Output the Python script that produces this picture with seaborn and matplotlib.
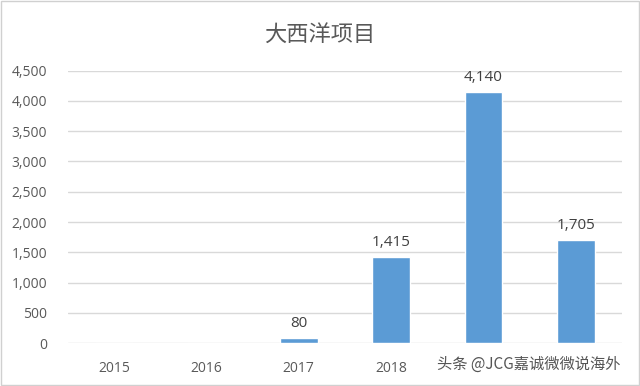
import matplotlib
matplotlib.use("Agg")
import matplotlib.pyplot as plt
import seaborn as sns
import pandas as pd
from matplotlib.patches import Rectangle
from matplotlib.ticker import FuncFormatter

years = ["2015", "2016", "2017", "2018", "2019", "2020"]
values = [0, 0, 80, 1415, 4140, 1705]
# labels of the last two bars are hidden under the watermark in the original
shown_labels = ["2015", "2016", "2017", "2018", "", ""]
title = "大西洋项目"
watermark = "头条 @JCG嘉诚微微说海外"

sns.set_style("white")
plt.rcParams['font.family'] = ['Open Sans', 'Noto Sans CJK SC', 'DejaVu Sans']

df = pd.DataFrame({"year": years, "value": values})

fig = plt.figure(figsize=(6.4, 3.86), dpi=100)
ax = fig.add_axes([0.106, 0.111, 0.866, 0.706])

sns.barplot(data=df, x="year", y="value", color="#5B9BD5", width=0.41,
            saturation=1, ax=ax, zorder=3)

ax.set_ylim(0, 4500)
ax.set_yticks(range(0, 4501, 500))
ax.yaxis.set_major_formatter(FuncFormatter(lambda v, p: f"{int(v):,}"))
ax.set_xticks(range(len(years)))
ax.set_xticklabels(shown_labels)
ax.grid(axis="y", color="#d9d9d9", linewidth=1, zorder=0)
ax.set_xlabel("")
ax.set_ylabel("")
for s in ax.spines.values():
    s.set_visible(False)
ax.tick_params(axis="both", length=0, labelsize=10, colors="#595959")
ax.tick_params(axis="x", pad=13)
ax.tick_params(axis="y", pad=15)

for i, v in enumerate(values):
    if v > 0:
        ax.text(i, v + 120, f"{v:,}", ha="center", va="bottom",
                fontsize=11, color="#404040")

fig.text(0.5, 0.91, title, ha="center", va="center", fontsize=16,
         color="#595959", family=['Noto Sans CJK SC', 'DejaVu Sans'])

fig.text(0.97, 0.055, watermark, ha="right", va="center", fontsize=11,
         color="#555555", family=['Noto Sans CJK SC', 'DejaVu Sans'],
         bbox=dict(facecolor="white", edgecolor="none", pad=1.5))

fig.patches.append(Rectangle((0.002, 0.003), 0.996, 0.994, transform=fig.transFigure,
                             fill=False, edgecolor="#d0d0d0", linewidth=1))

fig.savefig("out.png", dpi=100, facecolor="white")
